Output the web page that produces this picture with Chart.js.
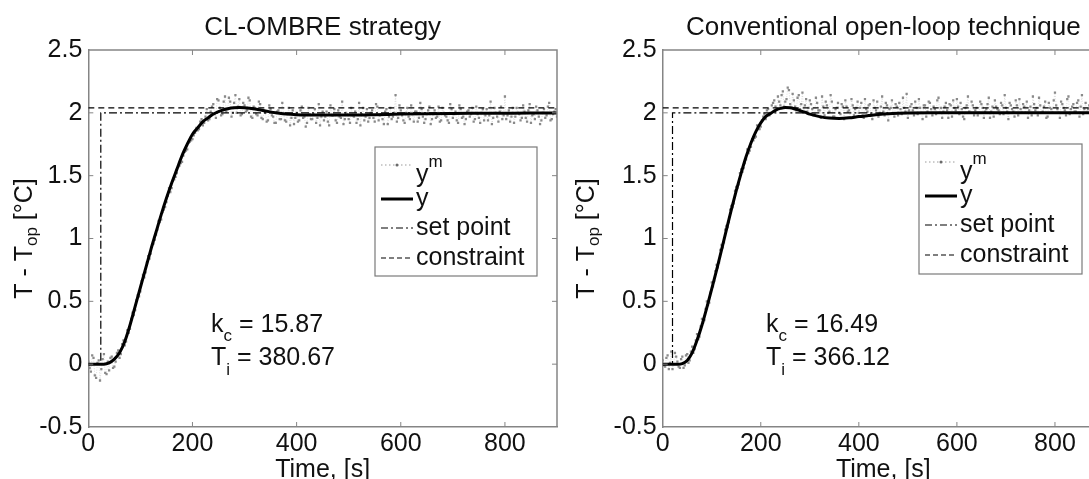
<!DOCTYPE html>
<html>
<head>
<meta charset="utf-8">
<script src="https://cdn.jsdelivr.net/npm/chart.js@4.4.1/dist/chart.umd.min.js"></script>
<style>
  html, body { margin: 0; padding: 0; background: #fff; overflow: hidden; }
  body { width: 1089px; height: 479px; position: relative; }
  .panel { position: absolute; top: 0; height: 479px; }
  #leftPanel { left: 0; width: 565px; }
  #rightPanel { left: 565px; width: 560px; }
</style>
</head>
<body>
<div class="panel" id="leftPanel"><canvas id="leftChart"></canvas></div>
<div class="panel" id="rightPanel"><canvas id="rightChart"></canvas></div>
<script>
// sample times of the measured signal, s
const measTimes = [
  0,5,10,15,20,25,30,35,40,45,50,55,60,65,70,75,80,85,90,95,
  100,105,110,115,120,125,130,135,140,145,150,155,160,165,170,175,180,185,190,195,
  200,205,210,215,220,225,230,235,240,245,250,255,260,265,270,275,280,285,290,295,
  300,305,310,315,320,325,330,335,340,345,350,355,360,365,370,375,380,385,390,395,
  400,405,410,415,420,425,430,435,440,445,450,455,460,465,470,475,480,485,490,495,
  500,505,510,515,520,525,530,535,540,545,550,555,560,565,570,575,580,585,590,595,
  600,605,610,615,620,625,630,635,640,645,650,655,660,665,670,675,680,685,690,695,
  700,705,710,715,720,725,730,735,740,745,750,755,760,765,770,775,780,785,790,795,
  800,805,810,815,820,825,830,835,840,845,850,855,860,865,870,875,880,885,890,895,
  900
];
const measTimesMid = [
  2.5,7.5,12.5,17.5,22.5,27.5,32.5,37.5,42.5,47.5,52.5,57.5,62.5,67.5,72.5,77.5,82.5,87.5,92.5,97.5,
  102.5,107.5,112.5,117.5,122.5,127.5,132.5,137.5,142.5,147.5,152.5,157.5,162.5,167.5,172.5,177.5,182.5,187.5,192.5,197.5,
  202.5,207.5,212.5,217.5,222.5,227.5,232.5,237.5,242.5,247.5,252.5,257.5,262.5,267.5,272.5,277.5,282.5,287.5,292.5,297.5,
  302.5,307.5,312.5,317.5,322.5,327.5,332.5,337.5,342.5,347.5,352.5,357.5,362.5,367.5,372.5,377.5,382.5,387.5,392.5,397.5,
  402.5,407.5,412.5,417.5,422.5,427.5,432.5,437.5,442.5,447.5,452.5,457.5,462.5,467.5,472.5,477.5,482.5,487.5,492.5,497.5,
  502.5,507.5,512.5,517.5,522.5,527.5,532.5,537.5,542.5,547.5,552.5,557.5,562.5,567.5,572.5,577.5,582.5,587.5,592.5,597.5,
  602.5,607.5,612.5,617.5,622.5,627.5,632.5,637.5,642.5,647.5,652.5,657.5,662.5,667.5,672.5,677.5,682.5,687.5,692.5,697.5,
  702.5,707.5,712.5,717.5,722.5,727.5,732.5,737.5,742.5,747.5,752.5,757.5,762.5,767.5,772.5,777.5,782.5,787.5,792.5,797.5,
  802.5,807.5,812.5,817.5,822.5,827.5,832.5,837.5,842.5,847.5,852.5,857.5,862.5,867.5,872.5,877.5,882.5,887.5,892.5,897.5
];

// CL-OMBRE strategy
const leftMeasured = [
  0.02,-0.06,0.05,-0.11,0.03,-0.04,0.08,-0.08,-0.05,0.06,-0.02,0.09,0.05,0.16,0.15,0.27,0.28,0.41,0.43,0.55,
  0.58,0.71,0.73,0.86,0.88,0.96,1.03,1.14,1.15,1.23,1.29,1.40,1.40,1.47,1.52,1.58,1.61,1.69,1.71,1.77,
  1.79,1.84,1.86,1.93,1.90,1.97,1.94,2.01,2.07,1.96,2.10,1.98,2.09,2.01,2.12,1.97,2.08,2.00,2.11,1.99,
  2.06,2.02,2.10,1.96,2.04,1.98,2.07,1.95,2.00,1.94,2.03,1.97,1.92,2.02,1.95,1.99,1.93,2.04,1.96,1.91,
  2.00,1.94,2.05,1.97,1.92,1.99,1.95,2.03,1.96,1.90,2.01,1.97,1.93,2.06,1.98,1.94,2.02,1.96,1.91,2.00,
  1.95,2.04,1.97,1.92,2.08,1.99,1.94,2.03,1.96,2.02,1.93,2.05,1.98,1.95,2.01,1.91,2.04,1.97,2.14,1.96,
  2.02,1.94,2.00,1.97,2.06,1.93,2.01,1.96,2.03,1.92,1.99,2.05,1.95,2.02,1.97,1.93,2.04,1.98,1.94,2.07,
  1.96,2.01,1.92,2.03,1.97,1.95,2.02,1.99,1.93,2.05,1.96,2.00,1.94,2.03,1.98,1.91,2.04,1.97,2.01,1.95,
  2.13,1.98,1.93,2.04,1.97,2.00,1.94,2.06,1.96,2.02,1.92,1.99,2.05,1.97,1.94,2.03,1.98,2.08,1.95,2.01,
  1.97
];
const leftMeasuredMid = [
  -0.03,0.07,-0.09,0.01,-0.13,0.04,-0.07,0.02,0.05,-0.03,0.02,0.11,0.08,0.19,0.18,0.25,0.36,0.39,0.51,0.54,
  0.66,0.69,0.81,0.84,0.95,0.99,1.07,1.13,1.21,1.25,1.34,1.37,1.46,1.49,1.57,1.60,1.66,1.70,1.76,1.78,
  1.82,1.88,1.87,1.95,1.92,2.03,1.95,2.05,1.99,2.11,2.04,1.99,2.13,2.03,2.09,2.00,2.14,2.05,1.98,2.08,
  2.01,2.12,1.97,2.05,1.99,2.09,1.96,2.02,1.93,2.06,1.98,1.92,2.01,1.95,2.08,1.94,1.99,1.90,2.02,1.96,
  1.93,2.02,1.96,1.89,2.04,1.95,1.99,1.92,2.07,1.97,1.94,2.01,1.90,1.98,2.03,1.92,1.97,2.09,1.95,1.99,
  1.92,1.98,2.01,1.95,1.90,2.04,1.97,1.93,2.00,1.96,2.07,1.94,1.99,1.91,2.03,1.97,1.95,2.00,1.93,2.06,
  1.98,1.92,2.04,1.95,1.99,2.01,1.93,2.08,1.97,1.95,2.02,1.91,1.99,1.96,2.05,1.94,2.00,1.97,1.92,2.03,
  1.99,1.94,2.06,1.96,1.91,2.01,1.97,2.04,1.95,1.99,1.92,2.03,1.98,1.94,2.09,1.96,2.00,1.93,2.05,1.98,
  1.95,2.02,1.97,1.92,2.04,1.99,1.96,2.01,1.93,2.07,1.98,1.95,2.02,1.91,2.00,1.96,2.05,1.94,1.99,2.03
];
const leftModelTimes = [0,10,20,30,40,50,60,70,80,90,100,110,120,130,140,150,160,170,180,190,200,210,220,230,240,250,260,270,280,290,300,320,340,360,380,400,450,500,550,600,650,700,750,800,850,900];
const leftModel = [0,0,0,0,0.01,0.04,0.09,0.18,0.31,0.46,0.61,0.76,0.91,1.05,1.19,1.32,1.44,1.55,1.66,1.75,1.83,1.88,1.93,1.96,1.99,2.01,2.025,2.035,2.04,2.042,2.04,2.03,2.015,2.0,1.99,1.985,1.982,1.982,1.985,1.99,1.993,1.995,1.996,1.997,1.998,1.998];
const leftSetTimes = [0,24,24,900];

// Conventional open-loop technique
const rightMeasured = [
  0.03,-0.02,0.07,0.01,-0.04,0.09,0.02,-0.03,0.06,-0.01,0.08,0.03,0.14,0.12,0.24,0.22,0.36,0.35,0.50,0.49,
  0.65,0.66,0.79,0.81,0.95,0.97,1.10,1.13,1.26,1.28,1.41,1.43,1.55,1.56,1.63,1.68,1.73,1.78,1.81,1.87,
  1.89,1.97,1.95,2.03,2.00,2.08,2.05,2.13,2.06,2.17,2.09,2.20,2.07,2.15,2.05,2.12,2.03,2.16,2.06,2.01,
  2.10,2.03,1.99,2.08,2.02,2.13,1.98,2.06,2.01,2.09,1.97,2.04,2.00,2.07,1.95,2.05,2.02,2.11,1.98,2.04,
  2.00,2.08,1.96,2.03,2.06,1.99,2.10,2.02,1.97,2.05,2.01,2.08,1.94,2.04,2.00,2.07,1.98,2.03,2.12,2.01,
  1.96,2.05,2.02,2.09,1.99,2.04,1.95,2.06,2.01,2.08,1.98,2.03,2.10,2.00,1.96,2.05,2.02,2.07,1.97,2.04,
  2.11,1.99,2.03,1.95,2.06,2.01,2.09,1.98,2.04,2.00,2.07,1.96,2.03,2.12,2.01,1.97,2.05,2.02,2.08,1.99,
  2.04,1.95,2.06,2.01,2.10,1.98,2.03,2.07,2.00,1.96,2.05,2.13,2.02,1.98,2.06,2.01,2.09,1.97,2.04,2.00,
  2.16,2.03,1.96,2.07,2.02,2.11,1.99,2.05,2.01,2.08,1.97,2.14,2.03,2.00,2.06,1.98,2.09,2.04,2.12,2.01,
  2.05
];
const rightMeasuredMid = [
  -0.01,0.05,-0.04,0.10,0.00,0.06,-0.02,0.04,-0.03,0.07,0.01,0.10,0.09,0.19,0.20,0.30,0.33,0.44,0.47,0.57,
  0.62,0.74,0.77,0.91,0.93,1.07,1.09,1.23,1.25,1.38,1.40,1.52,1.53,1.60,1.71,1.70,1.79,1.80,1.90,1.87,
  1.94,1.99,2.02,1.98,2.06,2.10,2.03,2.09,2.14,2.05,2.11,2.18,2.04,2.10,2.02,2.14,2.07,2.00,2.11,2.04,
  2.07,1.98,2.12,2.02,1.96,2.05,2.09,2.00,2.14,1.97,2.03,2.08,1.99,2.05,2.10,2.01,1.96,2.06,2.03,2.09,
  2.04,1.98,2.11,2.01,2.07,1.95,2.04,2.09,2.00,2.13,1.98,2.06,2.03,2.10,1.97,2.05,2.08,1.99,2.04,2.15,
  2.02,2.07,1.98,2.04,2.11,2.00,2.06,1.97,2.09,2.03,2.05,1.99,2.12,2.04,2.01,2.08,1.96,2.06,2.10,2.02,
  2.05,2.08,1.97,2.04,2.13,2.00,2.06,2.02,1.98,2.09,2.04,2.01,2.07,1.96,2.05,2.10,2.03,1.99,2.06,2.14,
  2.01,2.08,2.03,1.97,2.06,2.11,2.00,2.05,2.09,2.02,1.98,2.07,2.04,2.12,2.00,2.05,1.96,2.08,2.03,2.10,
  2.06,2.00,2.09,2.04,1.98,2.13,2.03,2.07,2.01,2.10,2.05,1.99,2.08,2.03,2.15,2.00,2.06,2.02,2.09,2.04
];
const rightModelTimes = [0,10,20,30,40,50,60,70,80,90,100,110,120,130,140,150,160,170,180,190,200,210,220,230,240,250,260,270,280,290,300,320,340,360,380,400,420,440,460,480,500,550,600,650,700,750,800,850,900];
const rightModel = [0,0,0,0,0.005,0.03,0.09,0.19,0.31,0.45,0.6,0.75,0.91,1.07,1.23,1.38,1.52,1.65,1.76,1.85,1.92,1.97,1.995,2.02,2.035,2.043,2.04,2.03,2.018,2.005,1.99,1.97,1.958,1.955,1.96,1.97,1.978,1.986,1.992,1.996,1.998,2.0,2.0,2.0,2.0,2.0,2.0,2.0,2.0];
const rightSetTimes = [0,20,20,900];

const setpointValues = [0,0,2,2];
const constraintTimes = [0,900];
const constraintValues = [2.04,2.04];

const FONT = '"Liberation Sans", Arial, Helvetica, sans-serif';
const frameColor = "#858585";
Chart.defaults.font.family = FONT;
Chart.defaults.color = "#111";

function pairs(xs, ys) {
  return xs.map((x, i) => ({ x: x, y: ys[i] }));
}

// draws text pieces one after another (for sub/superscripts)
function drawRuns(ctx, x, y, runs) {
  runs.forEach((r) => {
    ctx.font = r.size + "px " + FONT;
    ctx.fillText(r.text, x, y + (r.dy || 0));
    x += ctx.measureText(r.text).width;
  });
  return x;
}

function runsWidth(ctx, runs) {
  let w = 0;
  runs.forEach((r) => {
    ctx.font = r.size + "px " + FONT;
    w += ctx.measureText(r.text).width;
  });
  return w;
}

function makeDecor(p) {
  return {
    id: "decor",
    afterDatasetsDraw(chart) {
      const ctx = chart.ctx;
      const a = chart.chartArea;
      const sx = chart.scales.x;
      const sy = chart.scales.y;
      ctx.save();
      ctx.setLineDash([]);
      ctx.strokeStyle = frameColor;
      ctx.lineWidth = 1.5;
      ctx.beginPath();
      ctx.moveTo(a.left, a.top);
      ctx.lineTo(a.right, a.top);
      ctx.lineTo(a.right, a.bottom);
      ctx.stroke();

      // matlab style ticks, pointing inward
      ctx.lineWidth = 1;
      ctx.beginPath();
      sx.ticks.forEach((t) => {
        const px = sx.getPixelForValue(t.value);
        if (px < a.left + 2 || px > a.right - 2) return;
        ctx.moveTo(px, a.bottom);
        ctx.lineTo(px, a.bottom - 5);
        ctx.moveTo(px, a.top);
        ctx.lineTo(px, a.top + 5);
      });
      sy.ticks.forEach((t) => {
        const py = sy.getPixelForValue(t.value);
        if (py < a.top + 2 || py > a.bottom - 2) return;
        ctx.moveTo(a.left, py);
        ctx.lineTo(a.left + 5, py);
        ctx.moveTo(a.right, py);
        ctx.lineTo(a.right - 5, py);
      });
      ctx.stroke();

      // legend
      const L = p.legend;
      ctx.fillStyle = "#fff";
      ctx.fillRect(L.left, L.top, L.right - L.left, L.bottom - L.top);
      ctx.strokeStyle = "#7a7a7a";
      ctx.lineWidth = 1.2;
      ctx.strokeRect(L.left, L.top, L.right - L.left, L.bottom - L.top);

      const x0 = L.left + 6;
      const x1 = L.left + 38;
      const tx = L.left + 41;
      const lines = [L.top + 18, L.top + 52, L.top + 81, L.top + 111];

      ctx.strokeStyle = "#9a9a9a";
      ctx.lineWidth = 1;
      ctx.setLineDash([1.5, 2.5]);
      ctx.beginPath();
      ctx.moveTo(x0, lines[0]);
      ctx.lineTo(x1, lines[0]);
      ctx.stroke();
      ctx.fillStyle = "#6a6a6a";
      ctx.beginPath();
      ctx.arc((x0 + x1) / 2, lines[0], 1.5, 0, Math.PI * 2);
      ctx.fill();

      ctx.strokeStyle = "#000";
      ctx.setLineDash([]);
      ctx.lineWidth = 3;
      ctx.beginPath();
      ctx.moveTo(x0, lines[1]);
      ctx.lineTo(x1, lines[1]);
      ctx.stroke();

      ctx.lineWidth = 1.2;
      ctx.setLineDash([7, 3, 2, 3]);
      ctx.beginPath();
      ctx.moveTo(x0, lines[2]);
      ctx.lineTo(x1, lines[2]);
      ctx.stroke();

      ctx.setLineDash([5, 3]);
      ctx.beginPath();
      ctx.moveTo(x0, lines[3]);
      ctx.lineTo(x1, lines[3]);
      ctx.stroke();
      ctx.setLineDash([]);

      ctx.fillStyle = "#111";
      ctx.textAlign = "left";
      ctx.textBaseline = "alphabetic";
      drawRuns(ctx, tx, L.top + 35, [{ text: "y", size: 25 }, { text: "m", size: 17, dy: -15 }]);
      drawRuns(ctx, tx, L.top + 59, [{ text: "y", size: 25 }]);
      drawRuns(ctx, tx, L.top + 88, [{ text: "set point", size: 25 }]);
      drawRuns(ctx, tx, L.top + 118, [{ text: "constraint", size: 25 }]);
      ctx.restore();
    },
    afterDraw(chart) {
      const ctx = chart.ctx;
      const a = chart.chartArea;
      ctx.save();
      ctx.fillStyle = "#111";

      // title
      ctx.font = "26px " + FONT;
      ctx.textAlign = "center";
      ctx.textBaseline = "alphabetic";
      ctx.fillText(p.title, (a.left + a.right) / 2, p.titleY);

      // y axis label with subscript
      ctx.textAlign = "left";
      const yl = [
        { text: "T - T", size: 25 },
        { text: "op", size: 17, dy: 5 },
        { text: " [°C]", size: 25 },
      ];
      ctx.save();
      ctx.translate(p.yLabelX, (a.top + a.bottom) / 2);
      ctx.rotate(-Math.PI / 2);
      drawRuns(ctx, -runsWidth(ctx, yl) / 2, 0, yl);
      ctx.restore();

      // controller gains
      drawRuns(ctx, p.noteX, p.noteY, [
        { text: "k", size: 25 },
        { text: "c", size: 17, dy: 9 },
        { text: " = " + p.kc, size: 25 },
      ]);
      drawRuns(ctx, p.noteX, p.noteY + 33, [
        { text: "T", size: 25 },
        { text: "i", size: 17, dy: 10 },
        { text: " = " + p.ti, size: 25 },
      ]);
      ctx.restore();
    },
  };
}

function buildPanel(canvasId, p) {
  const canvas = document.getElementById(canvasId);
  const measuredPoints = pairs(measTimes, p.measured)
    .concat(pairs(measTimesMid, p.measuredMid))
    .sort((u, v) => u.x - v.x);
  return new Chart(canvas, {
    type: "line",
    data: {
      datasets: [
        {
          label: "y",
          data: pairs(p.modelTimes, p.model),
          borderColor: "#000",
          borderWidth: 3,
          pointRadius: 0,
          cubicInterpolationMode: "monotone",
          order: 1,
        },
        {
          label: "constraint",
          data: pairs(constraintTimes, constraintValues),
          borderColor: "#000",
          borderWidth: 1.2,
          borderDash: [6, 4],
          pointRadius: 0,
          order: 2,
        },
        {
          label: "set point",
          data: pairs(p.setTimes, setpointValues),
          borderColor: "#000",
          borderWidth: 1.2,
          borderDash: [8, 3, 2, 3],
          pointRadius: 0,
          order: 3,
        },
        {
          label: "ym",
          data: measuredPoints,
          showLine: true,
          borderColor: "rgba(150,150,150,0.45)",
          borderWidth: 0.7,
          borderDash: [1, 1.5],
          pointRadius: 1.6,
          pointStyle: "rect",
          pointBackgroundColor: "#8a8a8a",
          pointBorderWidth: 0,
          order: 4,
        },
      ],
    },
    options: {
      responsive: true,
      maintainAspectRatio: false,
      animation: false,
      events: [],
      layout: {
        padding: { left: p.padLeft, right: p.padRight, top: 50, bottom: 0 },
      },
      plugins: {
        legend: { display: false },
        tooltip: { enabled: false },
      },
      scales: {
        x: {
          type: "linear",
          min: 0,
          max: 900,
          afterFit: (scale) => {
            scale.height = 52;
          },
          ticks: {
            stepSize: 200,
            includeBounds: false,
            padding: 2,
            maxRotation: 0,
            color: "#111",
            font: { size: 25 },
          },
          grid: { display: false, drawTicks: false },
          border: { display: true, color: frameColor, width: 1.5 },
          title: {
            display: true,
            text: "Time, [s]",
            color: "#111",
            font: { size: 25 },
            padding: { top: 0, bottom: -6 },
          },
        },
        y: {
          min: -0.5,
          max: 2.5,
          afterFit: (scale) => {
            scale.width = 60;
          },
          ticks: {
            stepSize: 0.5,
            padding: 6,
            color: "#111",
            font: { size: 25 },
            callback: (value) => String(value),
          },
          grid: { display: false, drawTicks: false },
          border: { display: true, color: frameColor, width: 1.5 },
        },
      },
    },
    plugins: [makeDecor(p)],
  });
}

buildPanel("leftChart", {
  title: "CL-OMBRE strategy",
  titleY: 35,
  measured: leftMeasured,
  measuredMid: leftMeasuredMid,
  modelTimes: leftModelTimes,
  model: leftModel,
  setTimes: leftSetTimes,
  padLeft: 28.3,
  padRight: 8,
  yLabelX: 32,
  legend: { left: 375, top: 147, right: 537, bottom: 276 },
  noteX: 211,
  noteY: 332,
  kc: "15.87",
  ti: "380.67",
});

buildPanel("rightChart", {
  title: "Conventional open-loop technique",
  titleY: 35,
  measured: rightMeasured,
  measuredMid: rightMeasuredMid,
  modelTimes: rightModelTimes,
  model: rightModel,
  setTimes: rightSetTimes,
  padLeft: 37.7,
  padRight: 21,
  yLabelX: 29,
  legend: { left: 354, top: 144, right: 517, bottom: 274 },
  noteX: 201,
  noteY: 332,
  kc: "16.49",
  ti: "366.12",
});
</script>
</body>
</html>
